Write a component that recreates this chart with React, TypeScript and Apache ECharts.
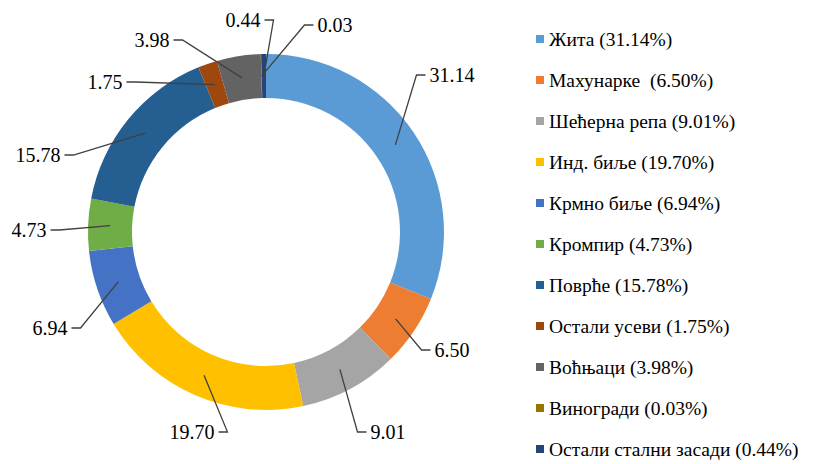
import React, { useEffect, useRef } from "react";
import * as echarts from "echarts";

const categories = [
  "Жита",
  "Махунарке ",
  "Шећерна репа",
  "Инд. биље",
  "Крмно биље",
  "Кромпир",
  "Поврће",
  "Остали усеви",
  "Воћњаци",
  "Виногради",
  "Остали стални засади",
];
const values = [31.14, 6.5, 9.01, 19.7, 6.94, 4.73, 15.78, 1.75, 3.98, 0.03, 0.44];
const colors = [
  "#5B9BD5",
  "#ED7D31",
  "#A5A5A5",
  "#FFC000",
  "#4472C4",
  "#70AD47",
  "#255E91",
  "#9E480E",
  "#636363",
  "#997300",
  "#264478",
];

// layout: where the data labels sit (label centres), as in the reference
const LABEL_POS: [number, number][] = [
  [452, 75],
  [452, 350],
  [388, 432],
  [192, 432],
  [50, 328],
  [29, 230],
  [38, 155],
  [105, 82],
  [152, 40],
  [335, 25],
  [243, 20],
];

const CX = 266;
const CY = 232;
const R_IN = 134;
const R_OUT = 178;
const FONT = "'Liberation Serif', 'Times New Roman', serif";

export default function App() {
  const ref = useRef<HTMLDivElement>(null);
  useEffect(() => {
    document.body.style.margin = "0";
    const chart = echarts.init(ref.current!, undefined, { renderer: "svg" });
    const data = categories.map((name, i) => ({ name, value: values[i] }));
    const total = values.reduce((a, b) => a + b, 0);
    const mids: number[] = [];
    let acc = 0;
    values.forEach((v) => {
      mids.push(((acc + v / 2) / total) * Math.PI * 2);
      acc += v;
    });
    chart.setOption({
      animation: false,
      backgroundColor: "#ffffff",
      color: colors,
      legend: {
        orient: "vertical",
        left: 536,
        top: 29,
        bottom: 0,
        padding: 0,
        itemWidth: 8,
        itemHeight: 8,
        itemGap: 21,
        icon: "rect",
        textStyle: {
          fontFamily: FONT,
          fontSize: 19.5,
          lineHeight: 20,
          color: "#000000",
        },
        formatter: (name: string) => {
          const i = categories.indexOf(name);
          return `${name} (${values[i].toFixed(2)}%)`;
        },
      },
      series: [
        {
          type: "pie",
          z: 2,
          center: [CX, CY],
          radius: [R_IN, R_OUT],
          startAngle: 90,
          clockwise: true,
          data,
          label: { show: false },
          labelLine: { show: false },
          itemStyle: { borderWidth: 0 },
          emphasis: { disabled: true },
        },
        {
          type: "pie",
          z: 5,
          silent: true,
          center: [CX, CY],
          radius: [R_IN, R_OUT],
          startAngle: 90,
          clockwise: true,
          data,
          avoidLabelOverlap: false,
          itemStyle: { color: "rgba(0,0,0,0)", borderWidth: 0 },
          label: {
            show: true,
            position: "outside",
            formatter: (p: any) => values[p.dataIndex].toFixed(2),
            fontFamily: FONT,
            fontSize: 20,
            color: "#000000",
          },
          labelLine: {
            show: true,
            length: 20,
            length2: 10,
            lineStyle: { color: "#404040", width: 1.3 },
          },
          labelLayout: (params: any) => {
            const i = params.dataIndex;
            const [lx, ly] = LABEL_POS[i];
            const w = params.labelRect.width;
            const a = mids[i];
            const rm = (R_IN + R_OUT) / 2;
            const p0 = [CX + rm * Math.sin(a), CY - rm * Math.cos(a)];
            const right = lx > p0[0];
            const p2 = right ? [lx - w / 2 - 4, ly] : [lx + w / 2 + 4, ly];
            const p1 = right ? [p2[0] - 9, ly] : [p2[0] + 9, ly];
            return {
              x: lx,
              y: ly,
              align: "center",
              verticalAlign: "middle",
              labelLinePoints: [p0, p1, p2],
            };
          },
          emphasis: { disabled: true },
        },
      ],
    });
    return () => chart.dispose();
  }, []);
  return <div ref={ref} style={{ width: 818, height: 464 }} />;
}
